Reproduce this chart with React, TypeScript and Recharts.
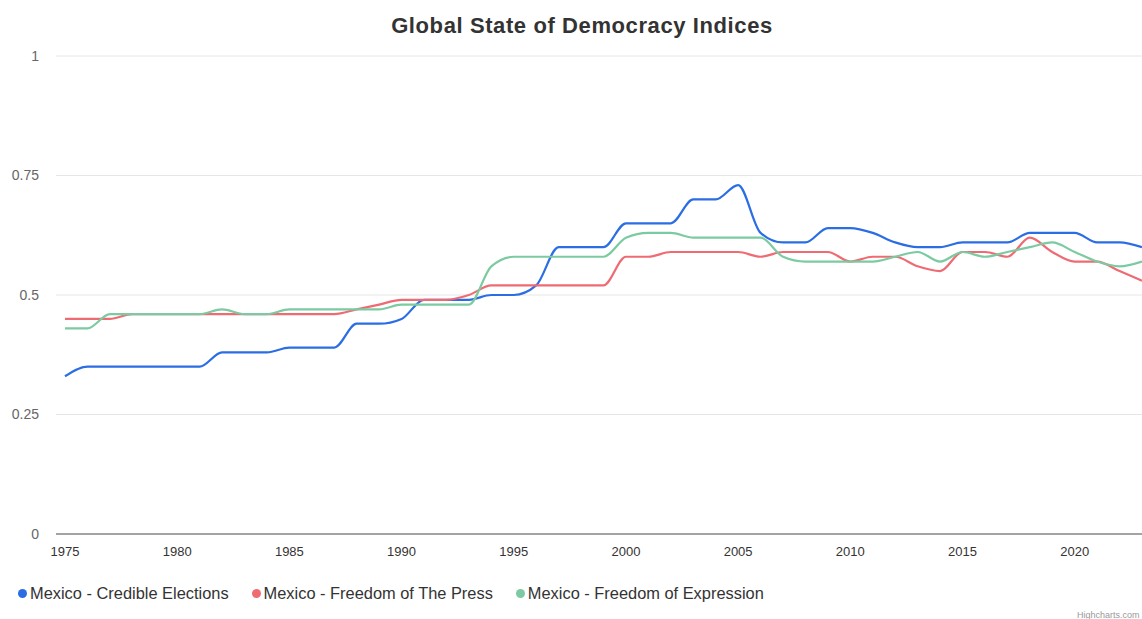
import React from "react";
import { LineChart, Line, CartesianGrid, XAxis, YAxis } from "recharts";

const years = [
  1975, 1976, 1977, 1978, 1979, 1980, 1981, 1982, 1983, 1984,
  1985, 1986, 1987, 1988, 1989, 1990, 1991, 1992, 1993, 1994,
  1995, 1996, 1997, 1998, 1999, 2000, 2001, 2002, 2003, 2004,
  2005, 2006, 2007, 2008, 2009, 2010, 2011, 2012, 2013, 2014,
  2015, 2016, 2017, 2018, 2019, 2020, 2021, 2022, 2023,
];

const credibleElections = [
  0.33, 0.35, 0.35, 0.35, 0.35, 0.35, 0.35, 0.38, 0.38, 0.38,
  0.39, 0.39, 0.39, 0.44, 0.44, 0.45, 0.49, 0.49, 0.49, 0.5,
  0.5, 0.52, 0.6, 0.6, 0.6, 0.65, 0.65, 0.65, 0.7, 0.7,
  0.73, 0.63, 0.61, 0.61, 0.64, 0.64, 0.63, 0.61, 0.6, 0.6,
  0.61, 0.61, 0.61, 0.63, 0.63, 0.63, 0.61, 0.61, 0.6,
];

const freedomOfPress = [
  0.45, 0.45, 0.45, 0.46, 0.46, 0.46, 0.46, 0.46, 0.46, 0.46,
  0.46, 0.46, 0.46, 0.47, 0.48, 0.49, 0.49, 0.49, 0.5, 0.52,
  0.52, 0.52, 0.52, 0.52, 0.52, 0.58, 0.58, 0.59, 0.59, 0.59,
  0.59, 0.58, 0.59, 0.59, 0.59, 0.57, 0.58, 0.58, 0.56, 0.55,
  0.59, 0.59, 0.58, 0.62, 0.59, 0.57, 0.57, 0.55, 0.53,
];

const freedomOfExpression = [
  0.43, 0.43, 0.46, 0.46, 0.46, 0.46, 0.46, 0.47, 0.46, 0.46,
  0.47, 0.47, 0.47, 0.47, 0.47, 0.48, 0.48, 0.48, 0.48, 0.56,
  0.58, 0.58, 0.58, 0.58, 0.58, 0.62, 0.63, 0.63, 0.62, 0.62,
  0.62, 0.62, 0.58, 0.57, 0.57, 0.57, 0.57, 0.58, 0.59, 0.57,
  0.59, 0.58, 0.59, 0.6, 0.61, 0.59, 0.57, 0.56, 0.57,
];

const xTicks = [1975, 1980, 1985, 1990, 1995, 2000, 2005, 2010, 2015, 2020];
const yTicks = [0, 0.25, 0.5, 0.75, 1];

const series = [
  { key: "elections", name: "Mexico - Credible Elections", color: "#2b6de3" },
  { key: "press", name: "Mexico - Freedom of The Press", color: "#ef6b73" },
  { key: "expression", name: "Mexico - Freedom of Expression", color: "#7ccaa1" },
];

const data = years.map((year, i) => ({
  year,
  elections: credibleElections[i],
  press: freedomOfPress[i],
  expression: freedomOfExpression[i],
}));

const FONT = '"Liberation Sans", Arial, Helvetica, sans-serif';

export default function App() {
  return (
    <div
      style={{
        position: "absolute",
        left: 0,
        top: 0,
        width: 1142,
        height: 619,
        overflow: "hidden",
        background: "#fff",
        fontFamily: FONT,
      }}
    >
      <div
        style={{
          position: "absolute",
          top: 13,
          left: 0,
          width: 1164,
          textAlign: "center",
          fontSize: 22,
          letterSpacing: 0.6,
          fontWeight: "bold",
          color: "#333",
        }}
      >
        Global State of Democracy Indices
      </div>

      <LineChart width={1142} height={619} data={data} margin={{ top: 56, right: 0, bottom: 55, left: 0 }}>
        <CartesianGrid vertical={false} stroke="#e6e6e6" />
        <XAxis
          dataKey="year"
          type="number"
          domain={[1975, 2023]}
          ticks={xTicks}
          padding={{ left: 9, right: 0 }}
          height={30}
          tickLine={false}
          tickSize={0}
          tickMargin={13}
          axisLine={{ stroke: "#555", strokeWidth: 1 }}
          tick={{ fill: "#333", fontSize: 13, fontFamily: FONT }}
        />
        <YAxis
          type="number"
          domain={[0, 1]}
          ticks={yTicks}
          width={56}
          axisLine={false}
          tickLine={false}
          tickSize={0}
          tickMargin={17}
          tick={{ fill: "#666", fontSize: 14, fontFamily: FONT }}
        />
        {series.map((s) => (
          <Line
            key={s.key}
            type="monotone"
            dataKey={s.key}
            name={s.name}
            stroke={s.color}
            strokeWidth={2.2}
            dot={false}
            isAnimationActive={false}
          />
        ))}
      </LineChart>

      <div
        style={{
          position: "absolute",
          top: 584,
          left: 18,
          display: "flex",
          alignItems: "center",
          fontSize: 16.4,
          color: "#333",
          whiteSpace: "nowrap",
        }}
      >
        {series.map((s) => (
          <div key={s.key} style={{ display: "flex", alignItems: "center", marginRight: 23 }}>
            <span
              style={{
                display: "inline-block",
                width: 9,
                height: 9,
                borderRadius: "50%",
                background: s.color,
                marginRight: 3,
              }}
            />
            <span>{s.name}</span>
          </div>
        ))}
      </div>

      <div
        style={{
          position: "absolute",
          top: 610,
          left: 1077,
          fontSize: 9,
          color: "#999",
          whiteSpace: "nowrap",
        }}
      >
        Highcharts.com
      </div>
    </div>
  );
}
